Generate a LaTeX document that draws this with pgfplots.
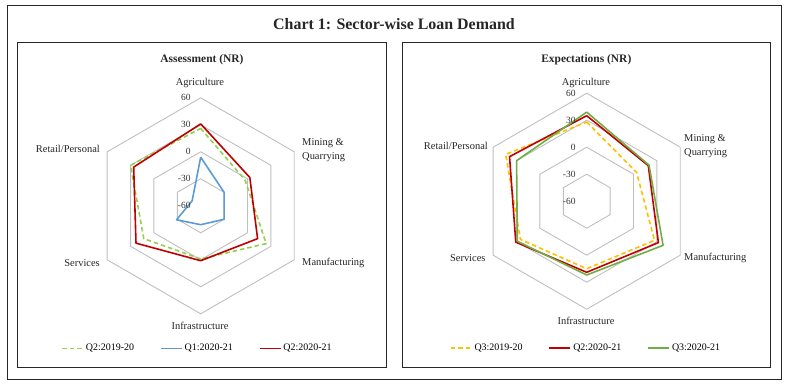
\documentclass[border=0pt]{standalone}
\usepackage{fontspec}
\setmainfont{Liberation Serif}
\usepackage{pgfplots}
\pgfplotsset{compat=1.18}
\usepackage{pgfplotstable}
\usepgfplotslibrary{polar}

\definecolor{gridg}{HTML}{BFBFBF}
\definecolor{xlred}{HTML}{C00000}
\definecolor{xlblue}{HTML}{5B9BD5}
\definecolor{xllgreen}{HTML}{92D050}
\definecolor{xlgreen}{HTML}{70AD47}
\definecolor{xlyellow}{HTML}{FFC000}

% angle: Agriculture 90, Mining 30, Manufacturing 330, Infrastructure 270, Services 210, Retail 150
\pgfplotstableread{
ang q2a q1b q2b
90  26  -6  31
30  -3  -30 3
330 24  -30 13
270 -1  -39 1
210 13  -29 23
150 30  -49 26
90  26  -6  31
}\leftdata

\pgfplotstableread{
ang q3a q2b q3b
90  28 35 39
30  4  19 20
330 27 32 38
270 15 19 22
210 25 31 29
150 44 39 30
90  28 35 39
}\rightdata

\pgfplotsset{
  radarstyle/.style={
    scale only axis, width=216bp, height=216bp, anchor=center,
    xmin=0, xmax=360, ymin=0, ymax=120, hide axis, clip=false,
    legend columns=3,
    legend style={draw=none, fill=none, font=\fontsize{10}{12}\selectfont,
      /tikz/every even column/.append style={column sep=24bp}},
    legend image code/.code={\draw[#1] (0bp,0bp) -- (21bp,0bp);},
  },
  hexgrid/.style={gridg, line width=0.9bp, forget plot},
  ser/.style={line width=1.6bp, no markers, line join=round},
  dsh/.style={dash pattern=on 4.5bp off 3bp},
}

\newcommand{\hexagons}{%
  \addplot[hexgrid] coordinates {(90,30)(30,30)(330,30)(270,30)(210,30)(150,30)(90,30)};
  \addplot[hexgrid] coordinates {(90,60)(30,60)(330,60)(270,60)(210,60)(150,60)(90,60)};
  \addplot[hexgrid] coordinates {(90,90)(30,90)(330,90)(270,90)(210,90)(150,90)(90,90)};
  \addplot[hexgrid] coordinates {(90,120)(30,120)(330,120)(270,120)(210,120)(150,120)(90,120)};
}
\newcommand{\ticklabels}[1]{%
  \node[anchor=east, xshift=#1, inner sep=0pt, text=black!80, font=\fontsize{9.5}{11}\selectfont] at (axis cs:90,120) {60};
  \node[anchor=east, xshift=#1, inner sep=0pt, text=black!80, font=\fontsize{9.5}{11}\selectfont] at (axis cs:90,90) {30};
  \node[anchor=east, xshift=#1, inner sep=0pt, text=black!80, font=\fontsize{9.5}{11}\selectfont] at (axis cs:90,60) {0};
  \node[anchor=east, xshift=#1, inner sep=0pt, text=black!80, font=\fontsize{9.5}{11}\selectfont] at (axis cs:90,30) {-30};
  \node[anchor=east, xshift=#1, inner sep=0pt, text=black!80, font=\fontsize{9.5}{11}\selectfont] at (axis cs:90,0) {-60};
}

\begin{document}
\begin{tikzpicture}
\path[use as bounding box] (0bp,0bp) rectangle (788bp,387bp);
% frames
\draw[black!85, line width=0.8bp] (7bp,7.7bp) rectangle (781bp,381.7bp);
\draw[black!85, line width=0.8bp] (17bp,20bp) rectangle (386.7bp,344.3bp);
\draw[black!85, line width=0.8bp] (402.3bp,20bp) rectangle (770.7bp,344.3bp);
\node[font=\fontsize{16}{19}\selectfont\bfseries, text=black!85] at (394bp,363bp) {Chart 1: Sector-wise Loan Demand};

% ---------- left ----------
\begin{polaraxis}[radarstyle, at={(200.7bp,181.2bp)},
  legend style={at={(axis description cs:0.485,-0.16)}, anchor=center}]
\hexagons
\addplot[ser, xllgreen, dsh] table[x=ang, y expr=\thisrow{q2a}+60] {\leftdata};
\addlegendentry{Q2:2019-20}
\addplot[ser, xlblue] table[x=ang, y expr=\thisrow{q1b}+60] {\leftdata};
\addlegendentry{Q1:2020-21}
\addplot[ser, xlred] table[x=ang, y expr=\thisrow{q2b}+60] {\leftdata};
\addlegendentry{Q2:2020-21}
\ticklabels{-10bp}
\end{polaraxis}

\begin{scope}[every node/.style={font=\fontsize{10.5}{14}\selectfont, text=black!85, inner sep=0pt}]
\node[font=\fontsize{11.5}{14}\selectfont\bfseries] at (202bp,327.7bp) {Assessment (NR)};
\node at (200bp,304.3bp) {Agriculture};
\node[anchor=west, align=left] at (302bp,237.3bp) {Mining \&\\Quarrying};
\node[anchor=west] at (302bp,124.3bp) {Manufacturing};
\node at (200bp,61bp) {Infrastructure};
\node[anchor=east] at (100bp,124.3bp) {Services};
\node[anchor=east] at (100bp,237.7bp) {Retail/Personal};
\end{scope}

% ---------- right ----------
\begin{polaraxis}[radarstyle, at={(586.7bp,185.8bp)},
  legend style={at={(axis description cs:0.497,-0.181)}, anchor=center}]
\hexagons
\addplot[ser, xlyellow, dsh] table[x=ang, y expr=\thisrow{q3a}+60] {\rightdata};
\addlegendentry{Q3:2019-20}
\addplot[ser, xlred] table[x=ang, y expr=\thisrow{q2b}+60] {\rightdata};
\addlegendentry{Q2:2020-21}
\addplot[ser, xlgreen] table[x=ang, y expr=\thisrow{q3b}+60] {\rightdata};
\addlegendentry{Q3:2020-21}
\ticklabels{-11bp}
\end{polaraxis}

\begin{scope}[every node/.style={font=\fontsize{10.5}{14}\selectfont, text=black!85, inner sep=0pt}]
\node[font=\fontsize{11.5}{14}\selectfont\bfseries] at (586.3bp,327.7bp) {Expectations (NR)};
\node at (586bp,303.7bp) {Agriculture};
\node[anchor=west, align=left] at (684bp,241bp) {Mining \&\\Quarrying};
\node[anchor=west] at (684bp,129bp) {Manufacturing};
\node at (586bp,66.3bp) {Infrastructure};
\node[anchor=east] at (485.7bp,129bp) {Services};
\node[anchor=east] at (488bp,241bp) {Retail/Personal};
\end{scope}
\end{tikzpicture}
\end{document}
